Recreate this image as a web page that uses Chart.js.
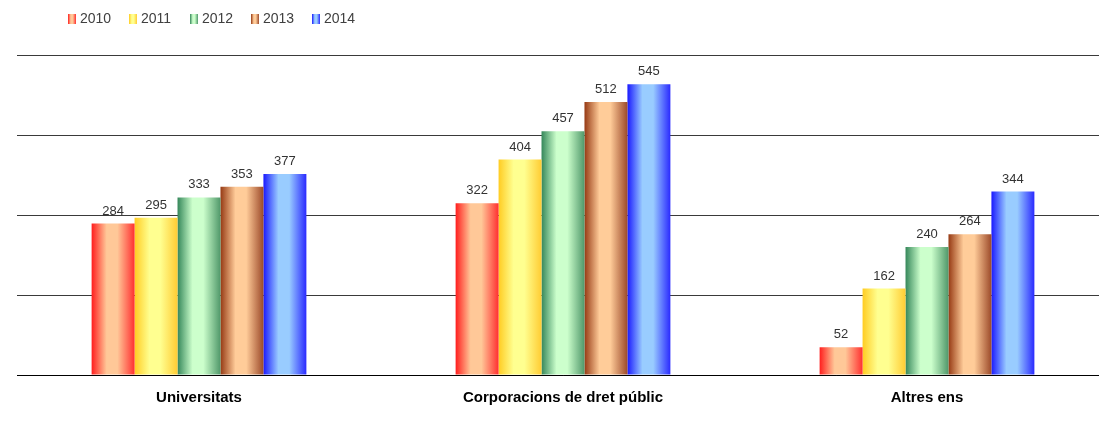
<!DOCTYPE html>
<html>
<head>
<meta charset="utf-8">
<script src="https://cdn.jsdelivr.net/npm/chart.js@4.4.1/dist/chart.umd.min.js"></script>
<style>
  html, body { margin: 0; padding: 0; background: #fff; overflow: hidden; }
  /* plot runs slightly past the window's right edge, as in the original */
  #wrap { position: relative; width: 1109px; height: 434px; }
</style>
</head>
<body>
<div id="wrap"><canvas id="chart"></canvas></div>
<script>
// ---- data ----
const categories = ["Universitats", "Corporacions de dret públic", "Altres ens"];
const years = ["2010", "2011", "2012", "2013", "2014"];
const values2010 = [284, 322, 52];
const values2011 = [295, 404, 162];
const values2012 = [333, 457, 240];
const values2013 = [353, 512, 264];
const values2014 = [377, 545, 344];
const yMax = 600;
const yStep = 150;

// edge / centre colours of each year's horizontal gradient
const barShades = [
  ["#ff1e1e", "#ffc898", "#ff3030"],
  ["#ffcc22", "#ffff90", "#ffcc33"],
  ["#35875a", "#ccffcc", "#50986a"],
  ["#963a14", "#ffcc99", "#9c4a2a"],
  ["#1a1aff", "#99ccff", "#2a2aff"]
];

function fillGradient(ctx, x0, x1, shade) {
  const g = ctx.createLinearGradient(x0, 0, x1, 0);
  g.addColorStop(0, shade[0]);
  g.addColorStop(0.35, shade[1]);
  g.addColorStop(0.6, shade[1]);
  g.addColorStop(1, shade[2]);
  return g;
}

// small icon canvases for the legend
function legendIcon(shade) {
  const c = document.createElement("canvas");
  c.width = 8; c.height = 10;
  const cx = c.getContext("2d");
  cx.fillStyle = fillGradient(cx, 0, 8, shade);
  cx.fillRect(0, 0, 8, 10);
  return c;
}

// gradients per bar, from the laid-out elements
const gradientBars = {
  id: "gradientBars",
  beforeDatasetsDraw(chart) {
    const ctx = chart.ctx;
    chart.data.datasets.forEach((ds, i) => {
      chart.getDatasetMeta(i).data.forEach(el => {
        const { x, width } = el.getProps(["x", "width"], true);
        const g = fillGradient(ctx, x - width / 2, x + width / 2, barShades[i]);
        el.options = Object.assign({}, el.options, { backgroundColor: g });
      });
    });
  }
};

// value labels above bars
const valueLabels = {
  id: "valueLabels",
  afterDatasetsDraw(chart) {
    const ctx = chart.ctx;
    ctx.save();
    ctx.font = "13px 'Liberation Sans', Arial, sans-serif";
    ctx.fillStyle = "#333333";
    ctx.textAlign = "center";
    ctx.textBaseline = "alphabetic";
    chart.data.datasets.forEach((ds, i) => {
      chart.getDatasetMeta(i).data.forEach((el, j) => {
        const { x, y } = el.getProps(["x", "y"], true);
        ctx.fillText(String(ds.data[j]), x, y - 9);
      });
    });
    ctx.restore();
  }
};

// legend row at the top left
const topLegend = {
  id: "topLegend",
  afterDraw(chart) {
    const ctx = chart.ctx;
    ctx.save();
    ctx.font = "14px 'Liberation Sans', Arial, sans-serif";
    ctx.fillStyle = "#404040";
    ctx.textBaseline = "middle";
    ctx.textAlign = "left";
    let x = 68;
    years.forEach((yr, i) => {
      ctx.drawImage(legendIcon(barShades[i]), x, 14);
      ctx.fillText(yr, x + 12, 19.5);
      x += 61;
    });
    ctx.restore();
  }
};

const seriesValues = [values2010, values2011, values2012, values2013, values2014];

new Chart(document.getElementById("chart"), {
  type: "bar",
  data: {
    labels: categories,
    datasets: years.map((yr, i) => ({
      label: yr,
      data: seriesValues[i],
      backgroundColor: barShades[i][1],
      borderWidth: 0,
      barPercentage: 1,
      categoryPercentage: 0.59
    }))
  },
  options: {
    responsive: true,
    maintainAspectRatio: false,
    animation: false,
    layout: { padding: { left: 17, right: 0, top: 55, bottom: 21 } },
    plugins: {
      legend: { display: false },
      tooltip: { enabled: false }
    },
    scales: {
      x: {
        grid: { display: false },
        border: { display: true, color: "#000000", width: 1 },
        ticks: {
          color: "#000000",
          padding: 6,
          font: { family: "'Liberation Sans', Arial, sans-serif", size: 15, weight: "bold" }
        }
      },
      y: {
        min: 0,
        max: yMax,
        ticks: { display: false, stepSize: yStep },
        border: { display: false },
        grid: { color: "#3a3a3a", lineWidth: 1, drawTicks: false }
      }
    }
  },
  plugins: [gradientBars, valueLabels, topLegend]
});
</script>
</body>
</html>
